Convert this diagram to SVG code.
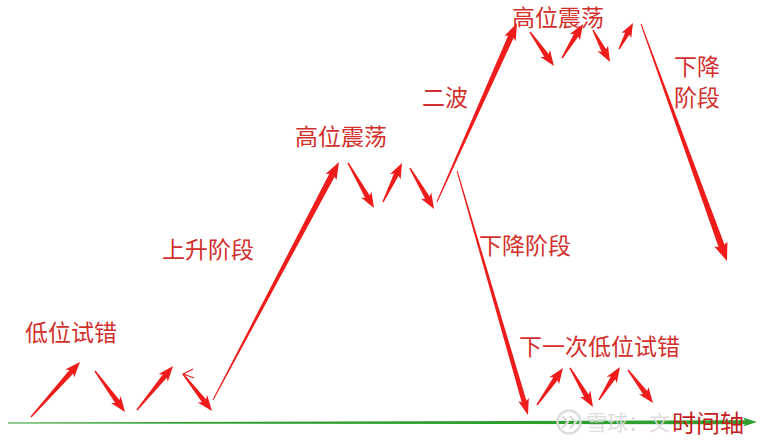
<svg xmlns="http://www.w3.org/2000/svg" width="760" height="444" viewBox="0 0 760 444">
<style>
.lbl{font-family:"Noto Sans CJK SC","Noto Sans",sans-serif;font-size:23px;fill:#d2302c;}
.arr{fill:#ee1d1b;}
.wm{font-family:"Noto Sans CJK SC","Noto Sans",sans-serif;font-size:21px;fill:#d9d9d9;fill-opacity:0.9;}
</style>
<rect width="760" height="444" fill="#ffffff"/>
<g id="axis">
<polygon points="8,422.6 745,420.3 743,417.5 757,422 743,426.5 745,424.3 8,423.4" fill="#2e9e2e"/>
</g>
<g id="watermark">
<circle cx="569" cy="422" r="11.5" fill="none" stroke="#d9d9d9" stroke-width="2.5" opacity="0.9"/>
<path d="M562,416 l6,6 l-6,6 M570,416 l6,6 l-6,6" fill="none" stroke="#d9d9d9" stroke-width="2"/>
<text class="wm" x="586" y="430">雪球：文</text>
</g>
<g id="connectors">
<!-- low trial -->
<polygon class="arr" transform="translate(80,362) rotate(-48.3)" points="-73.7,-0.7 -13,-2.6 -15.5,-6 0,0 -15.5,6 -13,2.6 -73.7,0.7"/>
<polygon class="arr" transform="translate(125,412) rotate(53.8)" points="-50.8,-0.7 -13,-2.6 -15.5,-6 0,0 -15.5,6 -13,2.6 -50.8,0.7"/>
<polygon class="arr" transform="translate(173,366) rotate(-50.7)" points="-56.9,-0.7 -13,-2.6 -15.5,-6 0,0 -15.5,6 -13,2.6 -56.9,0.7"/>
<polyline points="193,369 183.5,374 194,378" fill="none" stroke="#e02020" stroke-width="1.3"/>
<polygon class="arr" transform="translate(212,411) rotate(51.9)" points="-47,-0.7 -13,-2.6 -15.5,-6 0,0 -15.5,6 -13,2.6 -47,0.7"/>
<!-- rise -->
<polygon class="arr" transform="translate(339,162) rotate(-62.1)" points="-269.3,-0.5 -15,-3 -17,-6.2 0,0 -17,6.2 -15,3 -269.3,0.5"/>
<!-- high oscillation 1 -->
<polygon class="arr" transform="translate(374,208) rotate(60)" points="-52,-0.7 -13,-2.6 -15.5,-6 0,0 -15.5,6 -13,2.6 -52,0.7"/>
<polygon class="arr" transform="translate(402,163) rotate(-64)" points="-43.4,-0.7 -13,-2.6 -15.5,-6 0,0 -15.5,6 -13,2.6 -43.4,0.7"/>
<polygon class="arr" transform="translate(434,209) rotate(59.6)" points="-47.5,-0.7 -13,-2.6 -15.5,-6 0,0 -15.5,6 -13,2.6 -47.5,0.7"/>
<!-- second wave -->
<polygon class="arr" transform="translate(517,23) rotate(-65.9)" points="-196.1,-0.5 -15,-3 -17,-6.2 0,0 -17,6.2 -15,3 -196.1,0.5"/>
<!-- high oscillation 2 -->
<polygon class="arr" transform="translate(554,66) rotate(54.8)" points="-41.6,-0.7 -13,-2.6 -15.5,-6 0,0 -15.5,6 -13,2.6 -41.6,0.7"/>
<polygon class="arr" transform="translate(583,24) rotate(-58.3)" points="-40,-0.7 -13,-2.6 -15.5,-6 0,0 -15.5,6 -13,2.6 -40,0.7"/>
<polygon class="arr" transform="translate(610,62) rotate(62)" points="-36.2,-0.7 -13,-2.6 -15.5,-6 0,0 -15.5,6 -13,2.6 -36.2,0.7"/>
<polygon class="arr" transform="translate(633,23) rotate(-61.7)" points="-29.5,-0.7 -12,-2.4 -14,-5.5 0,0 -14,5.5 -12,2.4 -29.5,0.7"/>
<!-- declines -->
<polygon class="arr" transform="translate(727,261) rotate(70.06)" points="-252.1,-0.5 -16,-3.2 -18,-7 0,0 -18,7 -16,3.2 -252.1,0.5"/>
<polygon class="arr" transform="translate(528,415) rotate(73.8)" points="-254.1,-0.5 -14,-2.5 -16,-5.5 0,0 -16,5.5 -14,2.5 -254.1,0.5"/>
<!-- next low trial -->
<polygon class="arr" transform="translate(563,368) rotate(-54.9)" points="-45.2,-0.7 -13,-2.6 -15.5,-6 0,0 -15.5,6 -13,2.6 -45.2,0.7"/>
<polygon class="arr" transform="translate(593,407) rotate(59.5)" points="-45.3,-0.7 -13,-2.6 -15.5,-6 0,0 -15.5,6 -13,2.6 -45.3,0.7"/>
<polygon class="arr" transform="translate(620,367) rotate(-57.5)" points="-39.1,-0.7 -13,-2.6 -15.5,-6 0,0 -15.5,6 -13,2.6 -39.1,0.7"/>
<polygon class="arr" transform="translate(653,403) rotate(52.9)" points="-41.4,-0.7 -13,-2.6 -15.5,-6 0,0 -15.5,6 -13,2.6 -41.4,0.7"/>
</g>
<g id="label-low-trial"><text class="lbl" x="25" y="341">低位试错</text></g>
<g id="label-rise"><text class="lbl" x="162" y="258">上升阶段</text></g>
<g id="label-high-osc-1"><text class="lbl" x="295" y="145">高位震荡</text></g>
<g id="label-second-wave"><text class="lbl" x="422" y="106">二波</text></g>
<g id="label-high-osc-2"><text class="lbl" x="512" y="26">高位震荡</text></g>
<g id="label-decline-right"><text class="lbl" x="674" y="75">下降</text><text class="lbl" x="674" y="106">阶段</text></g>
<g id="label-decline"><text class="lbl" x="479" y="254">下降阶段</text></g>
<g id="label-next-low-trial"><text class="lbl" x="519" y="355">下一次低位试错</text></g>
<g id="label-time-axis"><text class="lbl" x="672" y="432" style="font-size:24px;fill:#c41e1e">时间轴</text></g>
</svg>
